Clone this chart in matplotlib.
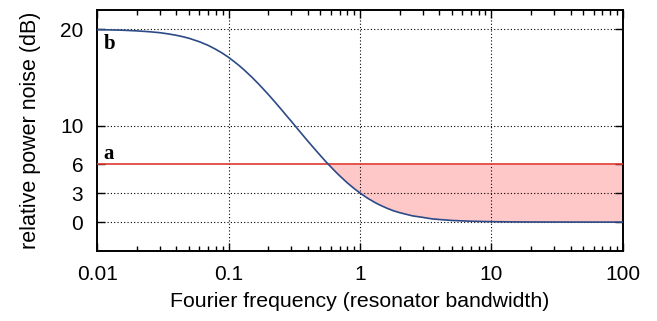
import matplotlib
matplotlib.use("Agg")
import numpy as np
import matplotlib.pyplot as plt
from matplotlib.ticker import LogLocator, NullFormatter, FixedLocator

# data (frequency in resonator bandwidths, noise in dB)
freq = [0.01, 0.015, 0.02, 0.025, 0.03, 0.035, 0.04, 0.045, 0.05, 0.06, 0.07,
        0.08, 0.09, 0.1, 0.11, 0.12, 0.13, 0.15, 0.17, 0.19, 0.2, 0.22, 0.25,
        0.28, 0.3, 0.35, 0.4, 0.45, 0.5, 0.55, 0.6, 0.65, 0.7, 0.75, 0.8, 0.9,
        1.0, 1.15, 1.3, 1.4, 1.6, 1.8, 2.0, 2.5, 3.0, 3.5, 4.0, 5.0, 7.0, 10.0,
        15.0, 20.0, 30.0, 50.0, 100.0]
noise_b = [19.96, 19.91, 19.83, 19.74, 19.64, 19.51, 19.37, 19.22, 19.06, 18.70,
           18.32, 17.91, 17.50, 17.08, 16.65, 16.24, 15.83, 15.04, 14.29, 13.58,
           13.25, 12.61, 11.73, 10.93, 10.45, 9.35, 8.41, 7.60, 6.89, 6.26, 5.72,
           5.23, 4.80, 4.42, 4.07, 3.49, 3.01, 2.45, 2.03, 1.80, 1.44, 1.17, 0.98,
           0.65, 0.49, 0.34, 0.27, 0.17, 0.09, 0.044, 0.019, 0.011, 0.005, 0.002,
           0.0004]
level_a = 6.0
yticks = [0, 3, 6, 10, 20]
xticks = [0.01, 0.1, 1, 10, 100]
xticklabels = ["0.01", "0.1", "1", "10", "100"]

plt.rcParams['font.family'] = ['Liberation Sans', 'DejaVu Sans']

fig = plt.figure(figsize=(6.57, 3.21), dpi=100)
ax = fig.add_axes([0.148, 0.218, 0.800, 0.751])

f = np.array(freq)
b = np.array(noise_b)

# shaded gap between curve b and level a
ax.fill_between(f, b, level_a, where=b <= level_a, interpolate=True,
                color="#ffc8c8", lw=0, zorder=1)
ax.axhline(level_a, color="#e03a2e", lw=1.2, zorder=3)
ax.plot(f, b, color="#2c4a86", lw=1.2, zorder=4)

ax.set_xscale("log")
ax.set_xlim(0.01, 100)
ax.set_ylim(-3, 22)

ax.set_xticks(xticks)
ax.set_xticklabels(xticklabels)
ax.xaxis.set_minor_locator(LogLocator(base=10, subs=np.arange(2, 10)))
ax.xaxis.set_minor_formatter(NullFormatter())
ax.yaxis.set_major_locator(FixedLocator(yticks))
ax.yaxis.set_minor_locator(FixedLocator([]))

ax.tick_params(which="both", direction="in", top=True, right=True,
               labelsize=15, width=1.0)
ax.tick_params(axis="x", pad=10)
ax.tick_params(axis="y", pad=10)
ax.tick_params(which="major", length=6)
ax.tick_params(which="minor", length=3.5)

# dotted grid (not at 6, that one is the red line)
for x in [0.1, 1, 10]:
    ax.axvline(x, color="black", ls=(0, (1, 2)), lw=0.8, zorder=2)
for y in [0, 3, 10, 20]:
    ax.axhline(y, color="black", ls=(0, (1, 2)), lw=0.8, zorder=2)

for sp in ax.spines.values():
    sp.set_linewidth(1.4)

ax.set_xlabel("Fourier frequency (resonator bandwidth)", fontsize=15.3, labelpad=6)
ax.set_ylabel("relative power noise (dB)", fontsize=15.5, labelpad=14)

ax.text(0.0112, 18.5, "b", family=["Liberation Serif", "DejaVu Serif"],
        fontweight="bold", fontsize=15, va="center", ha="left", zorder=5)
ax.text(0.0112, 7.1, "a", family=["Liberation Serif", "DejaVu Serif"],
        fontweight="bold", fontsize=15, va="center", ha="left", zorder=5)

fig.savefig("out.png", dpi=100)
